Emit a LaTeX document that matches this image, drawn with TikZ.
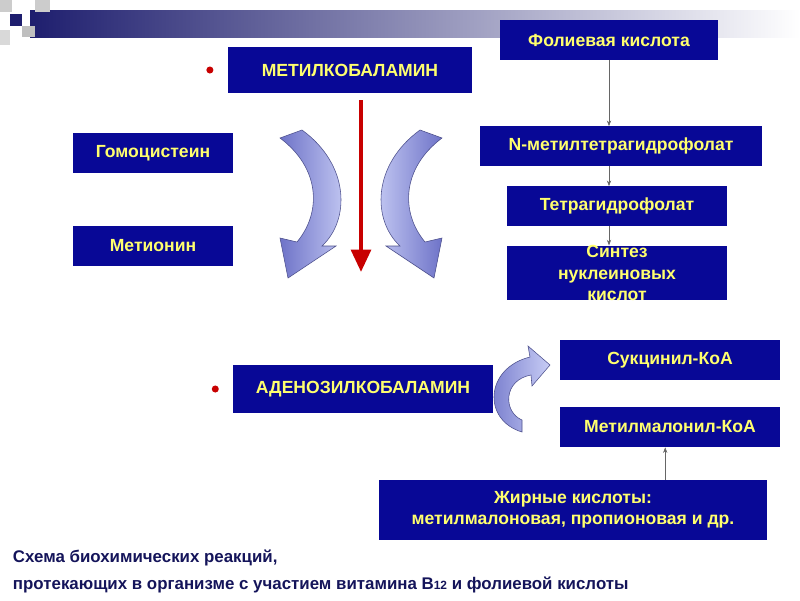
\documentclass[tikz,border=0pt]{standalone}
\usepackage{fontspec}
\setmainfont{Liberation Sans}
\usetikzlibrary{arrows.meta,positioning}
\definecolor{boxblue}{RGB}{8,8,150}
\definecolor{boxtext}{RGB}{255,255,110}
\definecolor{bandblue}{RGB}{30,30,110}
\definecolor{bulletred}{RGB}{200,0,0}
\definecolor{arrowlight}{RGB}{200,205,245}
\definecolor{arrowdark}{RGB}{110,115,200}
\definecolor{captionblue}{RGB}{20,20,90}
\begin{document}
\begin{tikzpicture}[x=0.025cm, y=-0.025cm,
    box/.style={rectangle, fill=boxblue, text=boxtext, font=\bfseries\fontsize{12.5}{15}\selectfont,
      align=center, inner sep=0pt},
    link/.style={draw=gray!80!black, thin, -{Stealth[length=4pt,width=3pt]}},
    bigarrow/.style={draw=arrowdark!70!black, line width=0.4pt, left color=arrowdark, right color=arrowlight}]

  \useasboundingbox (0,0) rectangle (800,600);

  % header band
  \shade[left color=bandblue, right color=white] (30,10) rectangle (800,37);
  \fill[gray!40] (0,0) rectangle (12,12);
  \fill[gray!40] (35,0) rectangle (50,12);
  \fill[bandblue] (10,14) rectangle (22,26);
  \fill[gray!50] (22,26) rectangle (35,37);
  \fill[gray!30] (0,30) rectangle (10,45);

  % boxes
  \node[box, minimum width=6.1cm, minimum height=1.15cm]   (metil) at (350,70)  {МЕТИЛКОБАЛАМИН};
  \node[box, minimum width=5.45cm, minimum height=1.0cm]   (fol)   at (609,40)  {Фолиевая кислота};
  \node[box, minimum width=4.0cm, minimum height=1.0cm]    (gomo)  at (153,153) {Гомоцистеин};
  \node[box, minimum width=4.0cm, minimum height=0.98cm]   (meth)  at (153,246) {Метионин};
  \node[box, minimum width=7.05cm, minimum height=0.98cm]  (nmet)  at (621,146) {N-метилтетрагидрофолат};
  \node[box, minimum width=5.5cm, minimum height=0.98cm]   (tetra) at (617,206) {Тетрагидрофолат};
  \node[box, minimum width=5.5cm, minimum height=1.33cm]   (sint)  at (617,273) {Синтез\\нуклеиновых\\кислот};
  \node[box, minimum width=6.48cm, minimum height=1.18cm]  (aden)  at (363,389) {АДЕНОЗИЛКОБАЛАМИН};
  \node[box, minimum width=5.5cm, minimum height=1.0cm]    (sukc)  at (670,360) {Сукцинил-КоА};
  \node[box, minimum width=5.5cm, minimum height=1.0cm]    (metm)  at (670,427) {Метилмалонил-КоА};
  \node[box, minimum width=9.68cm, minimum height=1.48cm]  (zhir)  at (573,510) {Жирные кислоты:\\метилмалоновая, пропионовая и др.};

  % bullets
  \node[circle, fill=bulletred, inner sep=0pt, minimum size=5pt, left=0.35cm of metil] (b1) {};
  \node[circle, fill=bulletred, inner sep=0pt, minimum size=5pt, left=0.35cm of aden] (b2) {};

  % gray links
  \draw[link] (fol.south) -- (nmet.north -| fol.south);
  \draw[link] (nmet.south -| fol.south) -- (tetra.north -| fol.south);
  \draw[link] (tetra.south -| fol.south) -- (sint.north -| fol.south);
  \draw[link] ([xshift=-0.12cm]zhir.north -| metm.south) -- ([xshift=-0.12cm]metm.south);

  % red arrow
  \coordinate (rtop) at (361,100);
  \coordinate (rbot) at (361,272);
  \draw[bulletred, line width=3pt, -{Triangle[length=16pt,width=14pt]}] (rtop) -- (rbot);

  % curved arrows
  \path[bigarrow] (302,130) .. controls (350,165) and (350,220) .. (322,246) -- (336,246)
    -- (288,278) -- (280,238) -- (297,242) .. controls (322,212) and (320,168) .. (280,138) -- cycle;
  \path[bigarrow, left color=arrowlight, right color=arrowdark] (420,130) .. controls (372,165) and (372,220) .. (400,246) -- (386,246)
    -- (434,278) -- (442,238) -- (425,242) .. controls (400,212) and (402,168) .. (442,138) -- cycle;
  \path[bigarrow] (522,432) .. controls (482,420) and (485,368) .. (530,357) -- (528,346)
    -- (550,365) -- (532,386) -- (531,375) .. controls (503,380) and (503,412) .. (522,420) -- cycle;

  % caption
  \node[anchor=north west, align=left, text=captionblue, font=\bfseries\fontsize{12}{19}\selectfont] (cap) at (8,545)
    {Схема биохимических реакций,\\протекающих в организме с участием витамина В{\fontsize{8.5}{10}\selectfont 12} и фолиевой кислоты};
\end{tikzpicture}
\end{document}
